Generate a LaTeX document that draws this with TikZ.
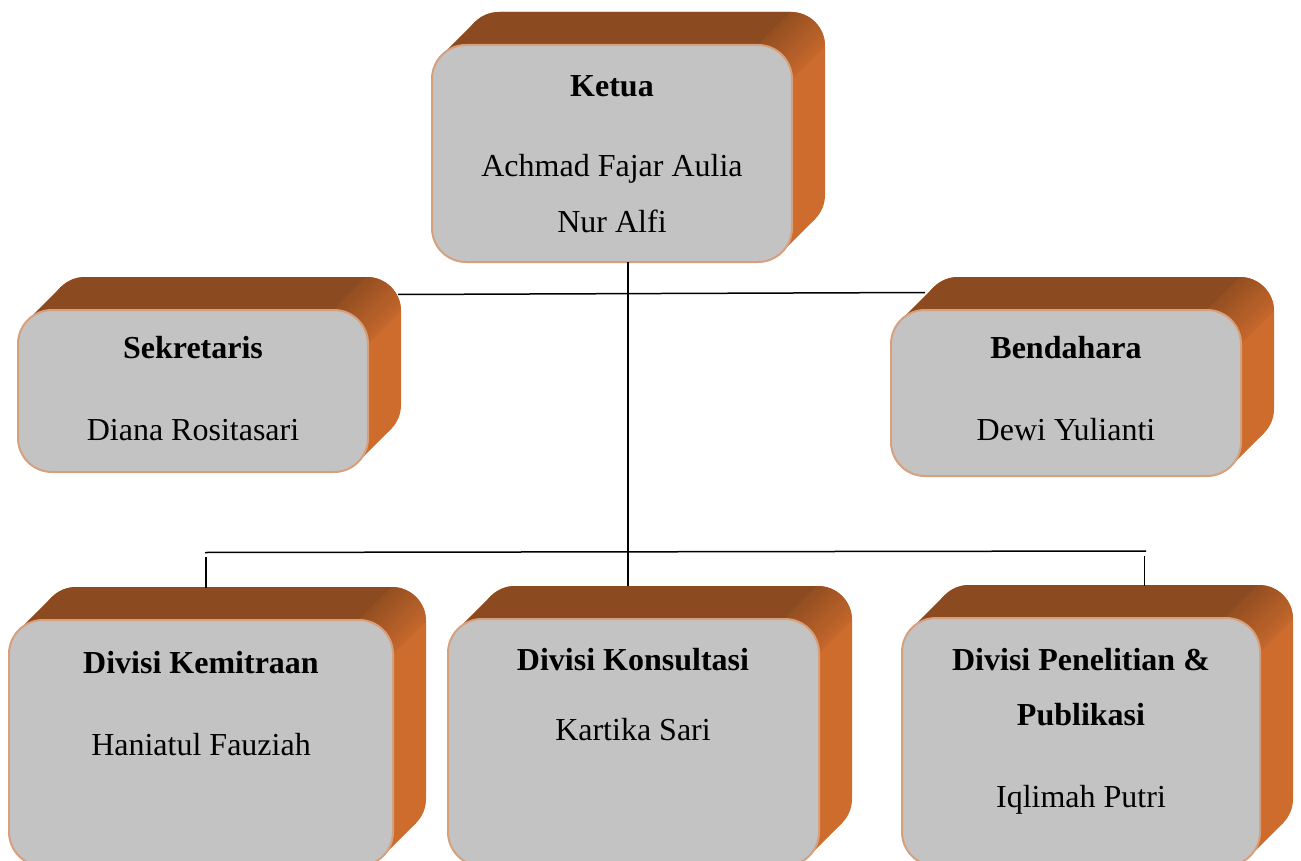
\documentclass[tikz,border=0pt]{standalone}
\usepackage{fontspec}
\setmainfont{Liberation Serif}
\definecolor{topcol}{RGB}{139,74,31}
\definecolor{sidecol}{RGB}{206,108,46}
\definecolor{facecol}{RGB}{195,195,195}
\definecolor{edgecol}{RGB}{214,160,125}
\tikzset{
  face/.style={draw=edgecol, line width=2pt, fill=facecol, rounded corners=34pt, inner sep=0pt, rectangle},
  ttl/.style={anchor=base, font=\fontsize{32pt}{38pt}\selectfont\bfseries, inner sep=0pt},
  nm/.style={anchor=base, font=\fontsize{32pt}{38pt}\selectfont, inner sep=0pt},
  conn/.style={draw=black, line width=1.5pt},
  backrect/.style={rounded corners=34pt},
}
% #1 name, #2 x1, #3 y1, #4 x2, #5 y2 (image pixel coordinates, front face)
\newcommand\orgbox[5]{%
  % extrusion: back face + sweep band (orange side colour)
  \fill[sidecol, backrect] (#2+33,#3-33) rectangle (#4+33,#5-33);
  \fill[sidecol] (#2+10,#3+10) -- (#2+43,#3-23) -- (#4+23,#5-43) -- (#4-10,#5-10) -- cycle;
  % top face (dark brown)
  \begin{scope}
    \clip (#2-3,#3+34) -- (#2-3,#3-37) -- (#4-1,#3-37) -- (#4-1,#3-33) -- (#4-34,#3) -- (#4-34,#3+34) -- cycle;
    \fill[topcol, backrect] (#2+33,#3-33) rectangle (#4+33,#5-33);
    \fill[topcol] (#2+10,#3+10) -- (#2+43,#3-23) -- (#4+23,#5-43) -- (#4-10,#5-10) -- cycle;
  \end{scope}
  % rounded top-right edge (gradient)
  \begin{scope}
    \clip[backrect] (#2+33,#3-33) rectangle (#4+33,#5-33);
    \shade[top color=topcol, bottom color=sidecol, shading angle=45]
      (#4-34,#3) -- (#4-1,#3-33) -- (#4+33,#3-33) -- (#4+33,#3+1) -- (#4,#3+34) -- cycle;
  \end{scope}
  % front face
  \node[face, minimum width={(#4-#2)*1pt}, minimum height={(#5-#3)*1pt}] (#1)
     at ({(#2+#4)/2},{(#3+#5)/2}) {};
}
\begin{document}
\begin{tikzpicture}[x=1pt,y=-1pt]
  \useasboundingbox (0,0) rectangle (1301,861);
  \clip (0,0) rectangle (1301,861);

  \orgbox{ketua}{432}{45}{792}{262}
  \orgbox{sekretaris}{18}{310}{368}{472}
  \orgbox{bendahara}{891}{310}{1241}{476}
  \orgbox{kemitraan}{9}{620}{393}{866}
  \orgbox{konsultasi}{448}{619}{819}{866}
  \orgbox{penelitian}{902}{618}{1260}{866}

  % texts
  \node[ttl] (ketua-t) at (612,97) {Ketua};
  \node[nm] (ketua-n1) at (612,177) {Achmad Fajar Aulia};
  \node[nm] (ketua-n2) at (612,233) {Nur Alfi};

  \node[ttl] (sek-t) at (193,358) {Sekretaris};
  \node[nm] (sek-n) at (193,440) {Diana Rositasari};

  \node[ttl] (ben-t) at (1066,358) {Bendahara};
  \node[nm] (ben-n) at (1066,440) {Dewi Yulianti};

  \node[ttl] (kem-t) at (201,673) {Divisi Kemitraan};
  \node[nm] (kem-n) at (201,755) {Haniatul Fauziah};

  \node[ttl] (kon-t) at (633,670) {Divisi Konsultasi};
  \node[nm] (kon-n) at (633,740) {Kartika Sari};

  \node[ttl] (pen-t1) at (1081,670) {Divisi Penelitian \&};
  \node[ttl] (pen-t2) at (1081,725) {Publikasi};
  \node[nm] (pen-n) at (1081,807) {Iqlimah Putri};

  % connector points
  \coordinate (ketua-b) at (628,262);
  \coordinate (konsul-top) at (628,586);
  \coordinate (sek-r) at (398,294.5);
  \coordinate (ben-l) at (925,292.5);
  \coordinate (hl) at (205,552.5);
  \coordinate (hr) at (1146,551);
  \coordinate (kem-j) at (206,557);
  \coordinate (kem-top) at (206,588);
  \coordinate (pen-j) at (1144.3,556);
  \coordinate (pen-top) at (1144.3,586);

  \draw[conn] (ketua-b) -- (konsul-top);
  \draw[conn] (sek-r) -- (ben-l);
  \draw[conn] (hl) -- (hr);
  \draw[conn] (kem-j) -- (kem-top);
  \draw[conn] (pen-j) -- (pen-top);
\end{tikzpicture}
\end{document}
